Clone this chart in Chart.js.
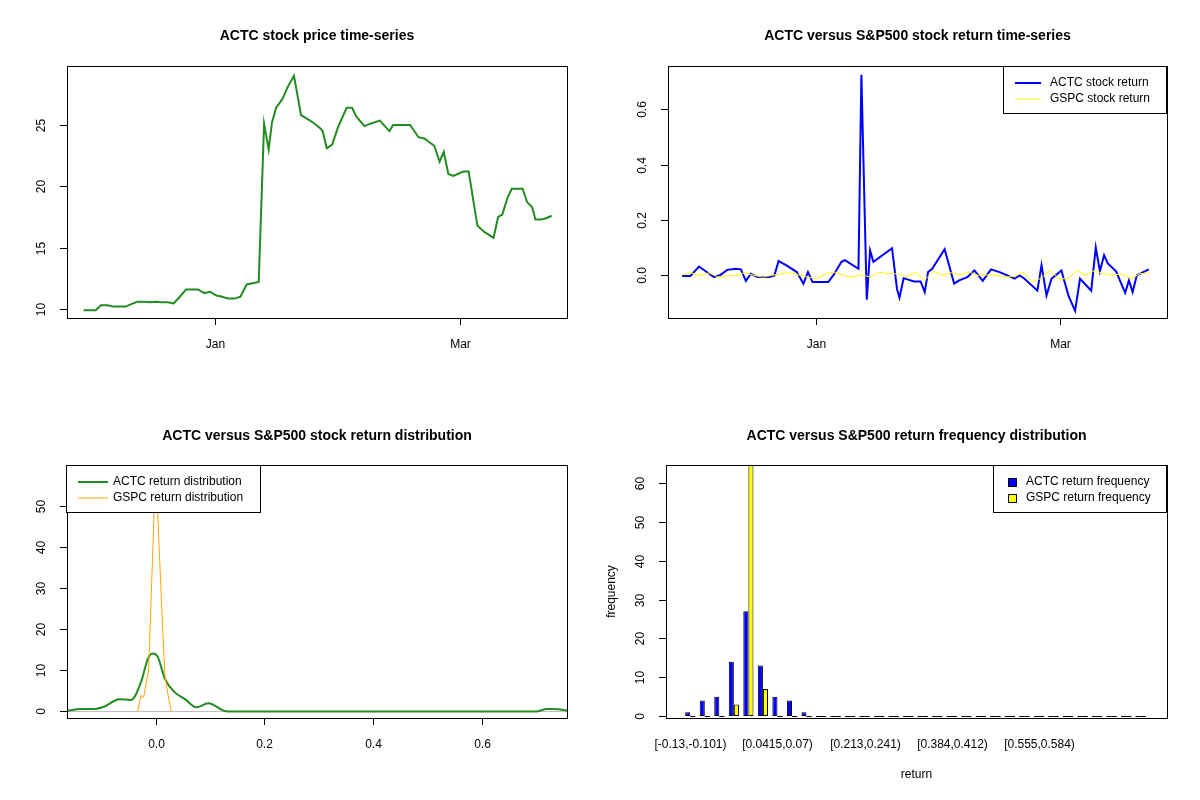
<!DOCTYPE html>
<html>
<head>
<meta charset="utf-8">
<script src="https://cdn.jsdelivr.net/npm/chart.js@4.4.1/dist/chart.umd.min.js"></script>
<style>
  body { margin: 0; background: #fff; }
  .grid { position: relative; width: 1200px; height: 800px; }
  .cell { position: absolute; width: 600px; height: 400px; }
</style>
</head>
<body>
<div class="grid">
  <div class="cell" style="left:0;top:0"><canvas id="priceChart" width="600" height="400"></canvas></div>
  <div class="cell" style="left:600px;top:0"><canvas id="returnChart" width="600" height="400"></canvas></div>
  <div class="cell" style="left:0;top:400px"><canvas id="densityChart" width="600" height="400"></canvas></div>
  <div class="cell" style="left:600px;top:400px"><canvas id="histChart" width="600" height="400"></canvas></div>
</div>
<script>
// ---- data (days counted from 1 Jan) ----
const priceDays = [-31.7, -30.2, -28.8, -27.5, -26.0, -24.5, -23.1, -21.6, -20.2, -18.7, -17.2, -15.8, -14.3, -12.9,
    -11.4, -10.0, -8.5, -7.0, -5.6, -4.1, -2.6, -1.2, 0.3, 1.7, 3.2, 4.7, 6.1, 7.6, 9.0, 10.5, 11.8, 12.9, 13.7,
    14.7, 16.2, 17.5, 19.0, 20.7, 22.2, 23.6, 25.1, 25.9, 26.9, 28.2, 29.6, 31.7, 33.0, 34.0, 36.0, 37.4, 39.7,
    42.0, 42.9, 47.0, 49.0, 50.4, 52.8, 54.1, 55.1, 56.2, 57.4, 59.8, 61.1, 63.2, 64.8, 67.1, 68.2, 69.2, 70.5,
    71.5, 74.1, 75.2, 76.4, 77.2, 78.6, 79.8, 81.1];
const actcPrice = [9.9, 9.9, 9.9, 10.3, 10.3, 10.2, 10.2, 10.2, 10.4, 10.6, 10.6, 10.55, 10.6, 10.55, 10.55, 10.45,
    11.0, 11.6, 11.6, 11.6, 11.3, 11.4, 11.1, 11.0, 10.85, 10.85, 11.0, 12.0, 12.1, 12.2, 25.1, 23.0, 25.2, 26.4,
    27.1, 28.1, 29.0, 25.8, 25.5, 25.2, 24.8, 24.5, 23.1, 23.4, 24.8, 26.4, 26.4, 25.7, 24.9, 25.1, 25.35, 24.5,
    25.0, 25.0, 24.0, 23.9, 23.3, 22.0, 22.8, 21.0, 20.85, 21.2, 21.2, 16.8, 16.3, 15.8, 17.5, 17.7, 19.1, 19.8,
    19.8, 18.7, 18.3, 17.3, 17.3, 17.4, 17.6];

const returnDays = [-32.3, -30.3, -28.2, -26.6, -24.6, -23.0, -21.4, -19.3, -18.1, -16.9, -15.7, -14.1, -11.2, -10.0,
    -9.0, -7.2, -4.6, -3.0, -1.9, -0.8, 3.0, 4.2, 6.2, 7.0, 10.3, 11.0, 12.3, 13.1, 13.9, 18.4, 19.6, 20.2, 21.2,
    23.7, 25.3, 26.3, 27.1, 28.1, 31.1, 33.4, 34.6, 36.6, 38.3, 40.3, 42.3, 44.7, 48.0, 49.2, 50.4, 53.5, 54.5,
    55.7, 56.9, 59.3, 61.0, 62.6, 63.8, 66.5, 67.6, 68.6, 69.6, 70.5, 72.5, 74.7, 75.6, 76.5, 77.5, 80.4];
const actcReturn = [-0.002, -0.002, 0.032, 0.015, -0.006, 0.002, 0.02, 0.024, 0.022, -0.02, 0.006, -0.006, -0.006,
    0, 0.052, 0.037, 0.012, -0.03, 0.012, -0.024, -0.024, 0, 0.049, 0.055, 0.024, 0.725, -0.088, 0.09, 0.049,
    0.098, -0.049, -0.08, -0.01, -0.022, -0.022, -0.06, 0.012, 0.024, 0.095, -0.03, -0.018, -0.006, 0.018, -0.02,
    0.022, 0.01, -0.012, 0, -0.012, -0.055, 0.037, -0.073, -0.012, 0.018, -0.073, -0.128, -0.012, -0.055, 0.101,
    0.015, 0.073, 0.043, 0.015, -0.063, -0.018, -0.06, 0, 0.022];
const gspcReturn = [0.002, 0.009, 0, 0.009, -0.006, -0.002, 0, 0.01, 0, -0.006, 0, 0.006, 0.01, 0.002, -0.006,
    -0.012, 0.006, 0.012, 0, -0.006, 0.002, -0.006, 0.012, 0.006, 0.006, -0.006, 0.012, -0.018, 0.015, 0, 0.01,
    0.002, 0.012, 0, 0.002, 0, -0.006, -0.004, 0.012, -0.024, -0.01, 0.018, -0.012, -0.012, 0.018, 0, 0.018,
    0.006, 0, 0.006, -0.012, 0.006, 0.009];

const actcDensX = [-0.162, -0.138, -0.113, -0.094, -0.067, -0.045, -0.027, -0.014, -0.005, 0.004, 0.017, 0.035,
    0.054, 0.075, 0.097, 0.125, 0.134, 0.4, 0.7, 0.72, 0.733, 0.76];
const actcDensY = [0.2, 0.6, 0.6, 1.2, 3.0, 2.8, 7.1, 12.9, 14.1, 13.3, 8.0, 4.7, 3.0, 1.0, 2.0, 0.2, 0, 0, 0, 0.6, 0.6, 0.2];
const gspcDensX = [-0.033, -0.027, -0.024, -0.021, -0.017, -0.013, -0.008, -0.003, 0, 0.004, 0.0105, 0.017, 0.023, 0.029];
const gspcDensY = [0, 3.9, 3.3, 4.0, 7.5, 9.6, 28, 48, 70, 48, 28, 8.8, 3.9, 0];

const binBreaks = [-0.13, -0.101, -0.0729, -0.0444, -0.0158, 0.0129, 0.0415, 0.07, 0.0986, 0.127, 0.156, 0.184,
    0.213, 0.241, 0.27, 0.299, 0.327, 0.356, 0.384, 0.412, 0.441, 0.47, 0.498, 0.527, 0.555, 0.584, 0.612, 0.641,
    0.67, 0.698, 0.727, 0.755, 0.784];
const actcFreq = [1, 4, 5, 14, 27, 13, 5, 4, 1, 0, 0, 0, 0, 0, 0, 0, 0, 0, 0, 0, 0, 0, 0, 0, 0, 0, 0, 0, 0, 0, 0, 0];
const gspcFreq = [0, 0, 0, 3, 65, 7, 0, 0, 0, 0, 0, 0, 0, 0, 0, 0, 0, 0, 0, 0, 0, 0, 0, 0, 0, 0, 0, 0, 0, 0, 0, 0];

// ---- helpers ----
const FONT = "'Liberation Sans', Arial, sans-serif";
const pairs = (xs, ys) => ys.map((y, i) => ({ x: xs[i], y }));
// GSPC returns were read at even spacing across the same date span
const first = returnDays[0], last = returnDays[returnDays.length - 1];
const gspcPoints = gspcReturn.map((y, i) => ({ x: first + i * (last - first) / (gspcReturn.length - 1), y }));
const binLabels = binBreaks.slice(0, -1).map((b, i) => `[${b},${binBreaks[i + 1]})`);

// R base-graphics look: box, rotated y labels, title, legend
const rBase = {
    id: 'rBase',
    beforeDatasetsDraw(chart, args, o) {
        if (o.hline === undefined) return;
        const { ctx, chartArea: a } = chart;
        const py = Math.round(chart.scales.y.getPixelForValue(o.hline)) + 0.5;
        ctx.save();
        ctx.strokeStyle = '#BEBEBE';
        ctx.lineWidth = 1;
        ctx.beginPath(); ctx.moveTo(a.left, py); ctx.lineTo(a.right, py); ctx.stroke();
        ctx.restore();
    },
    afterDatasetsDraw(chart, args, o) {
        const { ctx, chartArea: a } = chart;
        const L = a.left - (o.extL || 0), R = a.right + (o.extR || 0);
        ctx.save();

        // zero-height bars still show their border as a dash
        if (o.zeroDash) {
            ctx.strokeStyle = '#000';
            ctx.lineWidth = 1;
            chart.data.datasets.forEach((ds, di) => {
                chart.getDatasetMeta(di).data.forEach((bar, i) => {
                    if (ds.data[i] !== 0) return;
                    ctx.beginPath();
                    ctx.moveTo(bar.x - bar.width / 2, Math.round(bar.y) + 0.5);
                    ctx.lineTo(bar.x + bar.width / 2, Math.round(bar.y) + 0.5);
                    ctx.stroke();
                });
            });
        }

        ctx.strokeStyle = '#000';
        ctx.lineWidth = 1;
        ctx.strokeRect(L + 0.5, a.top + 0.5, R - L, a.bottom - a.top);

        ctx.fillStyle = '#000';
        ctx.font = `bold 14px ${FONT}`;
        ctx.textAlign = 'center';
        ctx.textBaseline = 'middle';
        ctx.fillText(o.title, (L + R) / 2, 36);

        ctx.font = `12px ${FONT}`;
        o.yTicks.forEach(v => {
            const py = Math.round(chart.scales.y.getPixelForValue(v)) + 0.5;
            ctx.beginPath(); ctx.moveTo(L - 7, py); ctx.lineTo(L, py); ctx.stroke();
            ctx.save();
            ctx.translate(L - 25, py);
            ctx.rotate(-Math.PI / 2);
            ctx.fillText(o.yFmt ? o.yFmt(v) : String(v), 0, 0);
            ctx.restore();
        });
        o.xTicks.forEach(t => {
            const px = Math.round(chart.scales.x.getPixelForValue(t.v)) + 0.5;
            if (o.xTickMarks !== false) {
                ctx.beginPath(); ctx.moveTo(px, a.bottom); ctx.lineTo(px, a.bottom + 7); ctx.stroke();
            }
            ctx.fillText(t.label, px, a.bottom + 27);
        });
        if (o.xLabel) ctx.fillText(o.xLabel, (L + R) / 2, 375);
        if (o.yLabel) {
            ctx.save();
            ctx.translate(12, (a.top + a.bottom) / 2);
            ctx.rotate(-Math.PI / 2);
            ctx.fillText(o.yLabel, 0, 0);
            ctx.restore();
        }

        if (o.legend) {
            const g = o.legend;
            ctx.fillStyle = '#fff';
            ctx.fillRect(g.x, g.y, g.w, g.h);
            ctx.strokeRect(g.x + 0.5, g.y + 0.5, g.w, g.h);
            ctx.textAlign = 'left';
            g.items.forEach((it, i) => {
                const cy = g.y + 17 + i * 16;
                if (it.box) {
                    ctx.fillStyle = it.color;
                    ctx.fillRect(g.x + 15, cy - 4, 8, 8);
                    ctx.strokeRect(g.x + 15.5, cy - 3.5, 8, 8);
                } else {
                    ctx.strokeStyle = it.color;
                    ctx.lineWidth = it.lw;
                    ctx.beginPath(); ctx.moveTo(g.x + 12, cy); ctx.lineTo(g.x + g.lineW, cy); ctx.stroke();
                    ctx.strokeStyle = '#000';
                    ctx.lineWidth = 1;
                }
                ctx.fillStyle = '#000';
                ctx.fillText(it.label, g.x + g.textX, cy);
            });
        }
        ctx.restore();
    }
};
Chart.register(rBase);

const baseOptions = (pad, x, y, rb) => ({
    responsive: false,
    animation: false,
    layout: { padding: pad },
    plugins: { legend: { display: false }, tooltip: { enabled: false }, rBase: rb },
    scales: {
        x: Object.assign({ display: false }, x),
        y: Object.assign({ display: false }, y)
    },
    elements: { point: { radius: 0 } }
});

// ---- price time-series ----
new Chart(document.getElementById('priceChart'), {
    type: 'line',
    data: { datasets: [{ data: pairs(priceDays, actcPrice), borderColor: '#228B22', borderWidth: 2 }] },
    options: baseOptions({ left: 67, right: 33, top: 66, bottom: 82 },
        { type: 'linear', min: -35.7, max: 84.8 }, { min: 9.27, max: 29.8 },
        { title: 'ACTC stock price time-series', yTicks: [10, 15, 20, 25],
          xTicks: [{ v: 0, label: 'Jan' }, { v: 59, label: 'Mar' }] })
});

// ---- return time-series ----
new Chart(document.getElementById('returnChart'), {
    type: 'line',
    data: { datasets: [
        { data: gspcPoints, borderColor: '#FFFF00', borderWidth: 1 },
        { data: pairs(returnDays, actcReturn), borderColor: '#0000FF', borderWidth: 2 }
    ] },
    options: baseOptions({ left: 68, right: 33, top: 66, bottom: 82 },
        { type: 'linear', min: -35.7, max: 84.8 }, { min: -0.154, max: 0.757 },
        { title: 'ACTC versus S&P500 stock return time-series', yTicks: [0, 0.2, 0.4, 0.6],
          yFmt: v => v.toFixed(1),
          xTicks: [{ v: 0, label: 'Jan' }, { v: 59, label: 'Mar' }],
          legend: { x: 403, y: 66, w: 163, h: 47, lineW: 38, textX: 47, items: [
              { label: 'ACTC stock return', color: '#0000FF', lw: 2 },
              { label: 'GSPC stock return', color: '#FFFF00', lw: 1 }] } })
});

// ---- density ----
new Chart(document.getElementById('densityChart'), {
    type: 'line',
    data: { datasets: [
        { data: pairs(gspcDensX, gspcDensY), borderColor: '#FFA500', borderWidth: 1 },
        { data: pairs(actcDensX, actcDensY), borderColor: '#228B22', borderWidth: 2, cubicInterpolationMode: 'monotone' }
    ] },
    options: baseOptions({ left: 67, right: 33, top: 65, bottom: 82 },
        { type: 'linear', min: -0.163, max: 0.757 }, { min: -1.6, max: 60.1 },
        { title: 'ACTC versus S&P500 stock return distribution', hline: 0, yTicks: [0, 10, 20, 30, 40, 50],
          xTicks: [0, 0.2, 0.4, 0.6].map(v => ({ v, label: v.toFixed(1) })),
          legend: { x: 66, y: 65, w: 194, h: 47, lineW: 42, textX: 47, items: [
              { label: 'ACTC return distribution', color: '#228B22', lw: 2 },
              { label: 'GSPC return distribution', color: '#FFA500', lw: 1 }] } })
});

// ---- frequency histogram ----
const tickEvery = 6;
new Chart(document.getElementById('histChart'), {
    type: 'bar',
    data: { labels: binLabels, datasets: [
        { data: actcFreq, backgroundColor: '#0000FF', borderColor: '#000', borderWidth: 1, borderSkipped: false },
        { data: gspcFreq, backgroundColor: '#FFFF00', borderColor: '#000', borderWidth: 1, borderSkipped: false }
    ] },
    options: Object.assign(baseOptions({ left: 83, right: 52, top: 65, bottom: 82 },
        { type: 'category', offset: true }, { min: -0.5, max: 64.7 },
        { title: 'ACTC versus S&P500 return frequency distribution', extL: 17, extR: 19, zeroDash: true,
          xTickMarks: false, xLabel: 'return', yLabel: 'frequency', yTicks: [0, 10, 20, 30, 40, 50, 60],
          xTicks: binLabels.map((l, i) => ({ v: i, label: l })).filter((t, i) => i % tickEvery === 0 && i < 30),
          legend: { x: 393, y: 65, w: 173, h: 47, lineW: 0, textX: 33, items: [
              { label: 'ACTC return frequency', color: '#0000FF', box: true },
              { label: 'GSPC return frequency', color: '#FFFF00', box: true }] } }),
        { datasets: { bar: { categoryPercentage: 0.7, barPercentage: 1 } } })
});
</script>
</body>
</html>
